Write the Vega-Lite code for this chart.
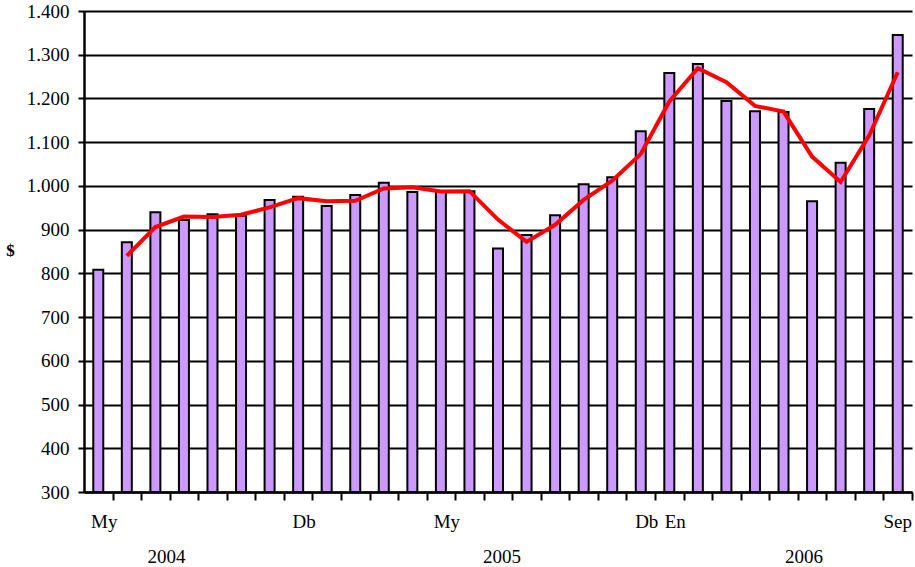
{
  "$schema": "https://vega.github.io/schema/vega-lite/v6.json",
  "width": 828,
  "height": 481,
  "autosize": {"type": "none"},
  "padding": {"left": 84, "top": 11, "right": 3, "bottom": 75},
  "background": "white",
  "config": {
    "view": {"stroke": null},
    "font": "Liberation Serif",
    "axis": {"grid": false, "labelColor": "black", "labelFont": "Liberation Serif", "titleFont": "Liberation Serif"}
  },
  "data": {
    "values": [
      {"month": "2004-05", "value": 808, "avg": null},
      {"month": "2004-06", "value": 871, "avg": 840},
      {"month": "2004-07", "value": 940, "avg": 906},
      {"month": "2004-08", "value": 922, "avg": 930},
      {"month": "2004-09", "value": 935, "avg": 929},
      {"month": "2004-10", "value": 932, "avg": 934},
      {"month": "2004-11", "value": 968, "avg": 951},
      {"month": "2004-12", "value": 975, "avg": 972},
      {"month": "2005-01", "value": 954, "avg": 965},
      {"month": "2005-02", "value": 979, "avg": 966},
      {"month": "2005-03", "value": 1007, "avg": 994},
      {"month": "2005-04", "value": 986, "avg": 997},
      {"month": "2005-05", "value": 987, "avg": 987},
      {"month": "2005-06", "value": 988, "avg": 988},
      {"month": "2005-07", "value": 857, "avg": 923},
      {"month": "2005-08", "value": 888, "avg": 872},
      {"month": "2005-09", "value": 933, "avg": 911},
      {"month": "2005-10", "value": 1004, "avg": 968},
      {"month": "2005-11", "value": 1020, "avg": 1012},
      {"month": "2005-12", "value": 1125, "avg": 1073},
      {"month": "2006-01", "value": 1258, "avg": 1193},
      {"month": "2006-02", "value": 1279, "avg": 1269},
      {"month": "2006-03", "value": 1194, "avg": 1237},
      {"month": "2006-04", "value": 1171, "avg": 1183},
      {"month": "2006-05", "value": 1169, "avg": 1170},
      {"month": "2006-06", "value": 965, "avg": 1067},
      {"month": "2006-07", "value": 1053, "avg": 1009},
      {"month": "2006-08", "value": 1176, "avg": 1115},
      {"month": "2006-09", "value": 1345, "avg": 1260}
    ]
  },
  "resolve": {"axis": {"x": "independent"}},
  "layer": [
    {
      "mark": {"type": "bar", "fill": "#CC99FF", "stroke": "black", "strokeWidth": 2},
      "encoding": {
        "x": {
          "field": "month", "type": "ordinal",
          "scale": {"paddingInner": 0.65, "paddingOuter": 0.325},
          "axis": {
            "orient": "bottom", "title": null, "labels": false,
            "bandPosition": 1, "tickOffset": 9.27, "ticks": true, "tickSize": 8, "tickWidth": 2, "tickColor": "black",
            "domain": true, "domainColor": "black", "domainWidth": 2.5
          }
        },
        "y": {
          "field": "value", "type": "quantitative",
          "scale": {"domain": [300, 1400], "zero": false, "nice": false},
          "axis": {
            "title": "$", "titleAngle": 0, "titleAlign": "center", "titleBaseline": "middle",
            "titleX": -74, "titleY": 239, "titleFontSize": 17, "titleFontWeight": "bold", "titleColor": "black",
            "values": [300, 350, 400, 450, 500, 550, 600, 650, 700, 750, 800, 850, 900, 950, 1000, 1050, 1100, 1150, 1200, 1250, 1300, 1350, 1400],
            "labelExpr": "datum.value % 100 == 0 ? replace(format(datum.value, ','), ',', '.') : ''",
            "labelFontSize": 19, "labelPadding": 9,
            "tickSize": 6, "tickWidth": 2, "tickColor": "black",
            "domain": true, "domainColor": "black", "domainWidth": 2.5,
            "grid": true, "gridColor": "black", "gridWidth": 2,
            "gridOpacity": {"condition": {"test": "datum.value % 100 != 0", "value": 0}, "value": 1}
          }
        },
        "y2": {"datum": 300}
      }
    },
    {
      "mark": {"type": "line", "color": "#FF0000", "strokeWidth": 4},
      "encoding": {
        "x": {
          "field": "month", "type": "ordinal",
          "axis": {
            "orient": "bottom", "title": null, "ticks": false, "tickSize": 0, "domain": false,
            "values": ["2004-05", "2004-07", "2004-12", "2005-05", "2005-07", "2005-12", "2006-01", "2006-06", "2006-09"],
            "labelExpr": "({'2004-05':'My','2004-12':'Db','2005-05':'My','2005-12':'Db','2006-01':'En','2006-09':'Sep','2004-07':'2004','2005-07':'2005','2006-06':'2006'})[datum.value]",
            "labelAngle": 0, "labelFontSize": 19, "labelBaseline": "alphabetic", "labelAlign": "center",
            "labelOverlap": false, "labelBound": false, "labelFlush": false,
            "labelPadding": {"condition": {"test": "indexof(['2004-07','2005-07','2006-06'], datum.value) >= 0", "value": 70}, "value": 35},
            "labelOffset": {"condition": [
              {"test": "datum.value == '2004-07'", "value": 11},
              {"test": "datum.value == '2005-07'", "value": 4},
              {"test": "datum.value == '2006-06'", "value": -8},
              {"test": "datum.value == '2006-09'", "value": 0}
            ], "value": 6}
          }
        },
        "y": {"field": "avg", "type": "quantitative"}
      }
    }
  ]
}
